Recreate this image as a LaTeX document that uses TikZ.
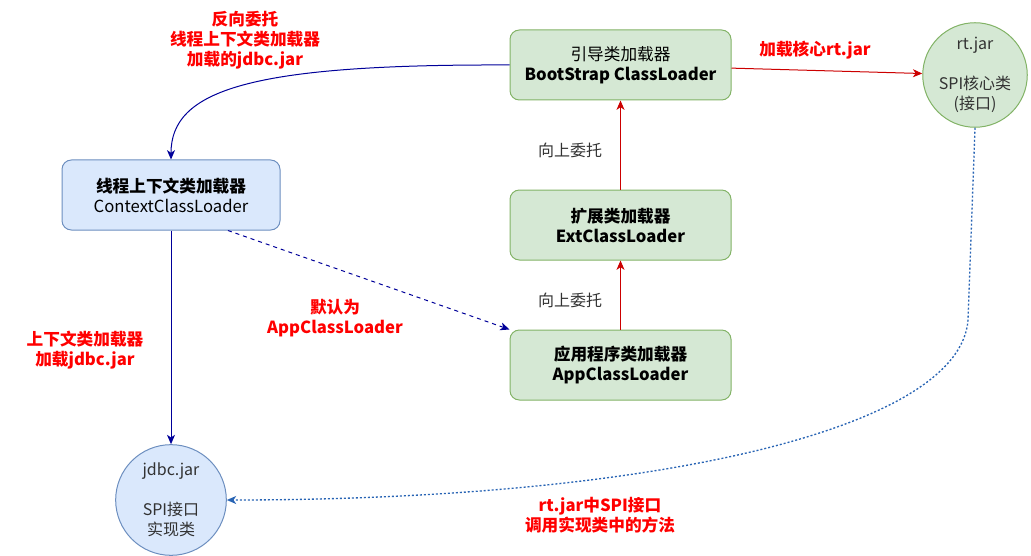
\documentclass[tikz,border=0pt]{standalone}
\usepackage{fontspec}
\setmainfont{Noto Sans CJK SC}
\definecolor{greenfill}{RGB}{213,232,212}
\definecolor{greenline}{RGB}{130,179,102}
\definecolor{bluefill}{RGB}{218,232,252}
\definecolor{blueline}{RGB}{108,142,191}
\definecolor{navyarrow}{RGB}{0,0,153}
\definecolor{redarrow}{RGB}{204,0,0}
\definecolor{redtext}{RGB}{255,0,0}
\definecolor{dotblue}{RGB}{40,100,180}
\definecolor{textgray}{RGB}{50,50,50}
\usepackage{tikz}
\usetikzlibrary{arrows.meta,positioning,shapes,calc}

\begin{document}
\begin{tikzpicture}[x=0.75pt,y=-0.75pt,
  loader/.style={draw=greenline,fill=greenfill,rounded corners=7pt,line width=0.75pt,
              minimum width=165.75pt,minimum height=52.5pt,
              font=\fontsize{12.5}{15}\selectfont,text=black,align=center},
  ctxbox/.style={loader,draw=blueline,fill=bluefill,minimum width=163.5pt},
  jar/.style={circle,draw=greenline,fill=greenfill,line width=0.75pt,inner sep=0pt,
              font=\fontsize{12}{15}\selectfont,text=textgray,align=center},
  note/.style={font=\fontsize{12.5}{15}\selectfont\bfseries,text=redtext,align=center},
  up/.style={font=\fontsize{12}{15}\selectfont,text=textgray},
  arr/.style={-{Stealth[length=7pt,width=6pt,inset=2pt]},line width=0.75pt}
]
  \useasboundingbox (0,0) rectangle (1031,556);
  % Loaders
  \node[loader] (boot) at (620.5,65) {引导类加载器\\\textbf{BootStrap ClassLoader}};
  \node[loader] (ext)  at (620.5,225) {\textbf{扩展类加载器}\\\textbf{ExtClassLoader}};
  \node[loader] (app)  at (620.5,365) {\textbf{应用程序类加载器}\\\textbf{AppClassLoader}};
  \node[ctxbox] (ctx)  at (171,195) {\textbf{线程上下文类加载器}\\ContextClassLoader};
  % Jars
  \node[jar,minimum size=78pt] (rt) at (975,75) {rt.jar\\[15pt]SPI核心类\\(接口)};
  \node[jar,draw=blueline,fill=bluefill,minimum size=83pt] (jdbc) at (171,500)
    {jdbc.jar\\[15pt]SPI接口\\实现类};
  % Delegation upwards
  \draw[arr,redarrow] (app) -- (ext);
  \draw[arr,redarrow] (ext) -- (boot);
  \node[up] (up1) at (570,150) {向上委托};
  \node[up] (up2) at (570,300) {向上委托};
  \draw[arr,redarrow] (boot) -- (rt);
  \node[note] (core) at (815,50) {加载核心rt.jar};
  % Reverse delegation
  \draw[arr,navyarrow] (boot.west) .. controls (250,64) and (171,90) .. (ctx.north);
  \node[note] (rev) at (245,40) {反向委托\\线程上下文类加载器\\加载的jdbc.jar};
  \draw[arr,navyarrow] (ctx) -- (jdbc);
  \node[note] (load) at (85,350) {上下文类加载器\\加载jdbc.jar};
  \draw[arr,navyarrow,dash pattern=on 3pt off 3pt]
    ($(ctx.south)!0.52!(ctx.south east)$) -- (app.north west);
  \node[note] (dflt) at (335,318) {默认为\\AppClassLoader};
  % SPI call back
  \coordinate (bend) at (968,320);
  \draw[arr,dotblue,line width=1pt,dash pattern=on 1.5pt off 1.5pt] (rt.south) -- (bend)
    .. controls (960,430) and (650,500) .. (jdbc.east);
  \node[note] (spi) at (600,515) {rt.jar中SPI接口\\调用实现类中的方法};
\end{tikzpicture}
\end{document}
